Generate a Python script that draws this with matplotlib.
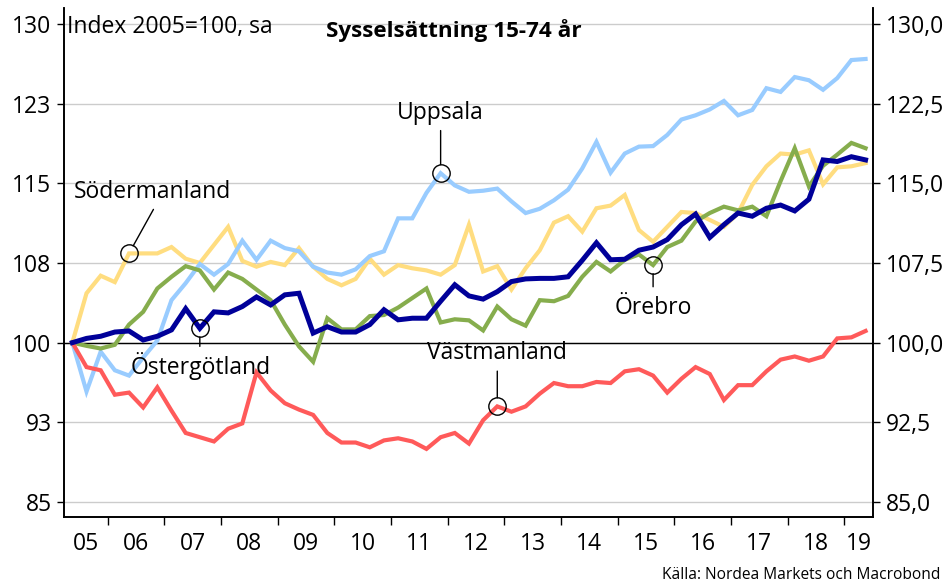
import matplotlib
matplotlib.use("Agg")
import matplotlib.pyplot as plt
import numpy as np
import pandas as pd

# ── Data (index 2005=100, quarterly) ─────────────────────────────────────────
quarters = pd.period_range("2005Q2", "2019Q2", freq="Q")

sodermanland = [100, 104.65, 106.3, 105.7, 108.4, 108.4, 108.4, 109.0, 107.9, 107.5,
                109.2, 110.9, 107.7, 107.15, 107.6, 107.3, 108.9, 107.15, 106.0, 105.4,
                106.0, 107.9, 106.4, 107.3, 107.0, 106.8, 106.4, 107.3, 111.1, 106.7,
                107.2, 105.0, 107.0, 108.7, 111.3, 111.9, 110.45, 112.65, 112.9, 113.9,
                110.6, 109.5, 110.9, 112.3, 112.2, 111.55, 110.9, 112.2, 114.85, 116.6,
                117.8, 117.7, 118.1, 114.9, 116.5, 116.6, 116.9]

uppsala = [100, 95.4, 99.15, 97.4, 96.9, 98.6, 100.2, 104.0, 105.6, 107.4,
           106.4, 107.4, 109.6, 107.8, 109.6, 108.9, 108.6, 107.15, 106.6, 106.4,
           106.9, 108.15, 108.6, 111.7, 111.7, 114.1, 115.95, 114.8, 114.2, 114.3,
           114.5, 113.3, 112.2, 112.6, 113.4, 114.4, 116.4, 118.9, 116.0, 117.8,
           118.45, 118.5, 119.55, 121.0, 121.4, 121.95, 122.75, 121.4, 121.9, 123.95,
           123.6, 125.0, 124.7, 123.8, 124.9, 126.6, 126.7]

orebro = [100, 99.7, 99.45, 99.8, 101.7, 102.9, 105.1, 106.2, 107.2, 106.8,
          105.0, 106.6, 106.0, 105.0, 104.0, 101.7, 99.65, 98.2, 102.3, 101.25,
          101.25, 102.5, 102.6, 103.3, 104.2, 105.1, 101.9, 102.2, 102.1, 101.15,
          103.4, 102.2, 101.6, 104.0, 103.9, 104.4, 106.2, 107.6, 106.7, 107.8,
          108.3, 107.3, 109.0, 109.6, 111.4, 112.2, 112.8, 112.45, 112.8, 111.9,
          115.2, 118.3, 114.7, 116.65, 117.7, 118.8, 118.3]

vastmanland = [100, 97.7, 97.4, 95.1, 95.3, 93.9, 95.8, 93.6, 91.5, 91.1,
               90.7, 91.9, 92.4, 97.2, 95.5, 94.3, 93.7, 93.2, 91.5, 90.6,
               90.6, 90.15, 90.8, 91.0, 90.7, 90.0, 91.1, 91.5, 90.5, 92.7,
               94.0, 93.5, 94.0, 95.2, 96.2, 95.9, 95.9, 96.3, 96.2, 97.3,
               97.5, 96.9, 95.3, 96.6, 97.7, 97.05, 94.6, 96.0, 96.0, 97.3,
               98.4, 98.7, 98.3, 98.7, 100.4, 100.5, 101.1]

ostergotland = [100, 100.4, 100.6, 101.0, 101.1, 100.25, 100.6, 101.2, 103.2, 101.35,
                102.9, 102.8, 103.4, 104.3, 103.55, 104.5, 104.65, 100.9, 101.5, 101.0,
                101.0, 101.7, 103.1, 102.15, 102.3, 102.3, 103.9, 105.45, 104.4, 104.1,
                104.8, 105.75, 106.0, 106.05, 106.05, 106.2, 107.75, 109.4, 107.8, 107.85,
                108.7, 109.0, 109.7, 111.1, 112.1, 109.9, 111.1, 112.2, 111.9, 112.65,
                112.95, 112.4, 113.5, 117.2, 117.05, 117.5, 117.2]

yticks        = [85, 92.5, 100, 107.5, 115, 122.5, 130]
ylabels_left  = ["85", "93", "100", "108", "115", "123", "130"]
ylabels_right = ["85,0", "92,5", "100,0", "107,5", "115,0", "122,5", "130,0"]
year_labels   = ["05", "06", "07", "08", "09", "10", "11", "12", "13", "14",
                 "15", "16", "17", "18", "19"]

# ── Style ─────────────────────────────────────────────────────────────────────
plt.rcParams["font.family"] = ["Open Sans", "DejaVu Sans"]

YELLOW = "#ffdd80"
LBLUE  = "#99ccff"
GREEN  = "#86ad4d"
RED    = "#ff5a5a"
DBLUE  = "#000099"
GRID   = "#cccccc"

t = quarters.year + (quarters.quarter - 1) / 4 + 0.125
XMIN, XMAX = 2005.228, 2019.507

fig = plt.figure(figsize=(9.47, 5.83), dpi=100)
ax = fig.add_axes([0.0676, 0.1132, 0.8543, 0.8731])

ax.set_xlim(XMIN, XMAX)
ax.set_ylim(83.59, 131.5)

for v in yticks:
    ax.axhline(v, color=GRID, lw=1.0, zorder=1)
ax.axhline(100, color="black", lw=1.0, zorder=2)

ax.plot(t, sodermanland, color=YELLOW, lw=3.0, zorder=3, solid_joinstyle="miter")
ax.plot(t, uppsala,      color=LBLUE,  lw=3.0, zorder=3, solid_joinstyle="miter")
ax.plot(t, orebro,       color=GREEN,  lw=3.0, zorder=3, solid_joinstyle="miter")
ax.plot(t, vastmanland,  color=RED,    lw=3.0, zorder=3, solid_joinstyle="miter")
ax.plot(t, ostergotland, color=DBLUE,  lw=3.6, zorder=4, solid_joinstyle="miter")

# ── Annotations ───────────────────────────────────────────────────────────────
def label(name, series, i, line_off, text_off):
    x, y = t[i], series[i]
    ax.plot(x, y, "o", ms=12.5, mfc="none", mec="black", mew=1.0, zorder=6)
    ax.annotate("", xy=(x, y), xytext=line_off, textcoords="offset points",
                arrowprops=dict(arrowstyle="-", color="black", lw=1.0,
                                shrinkA=0, shrinkB=6.2), zorder=6)
    ax.annotate(name, xy=(x, y), xytext=text_off, textcoords="offset points",
                ha="center", va="baseline", fontsize=16.5, zorder=6)

label("Södermanland", sodermanland, 4,  (17.6, 31.7), (17.0, 39.6))
label("Uppsala",      uppsala,      26, (0, 30.7),    (0, 39.0))
label("Östergötland", ostergotland, 9,  (0, -13.0),   (0.7, -32.9))
label("Örebro",       orebro,       41, (0, -15.6),   (0, -35.5))
label("Västmanland",  vastmanland,  30, (0, 25.4),    (-0.6, 34.3))

# ── Axes ──────────────────────────────────────────────────────────────────────
ax.spines["top"].set_visible(False)
for s in ("left", "right", "bottom"):
    ax.spines[s].set_linewidth(1.2)

ax.set_yticks(yticks)
ax.set_yticklabels(ylabels_left)
ax.tick_params(axis="y", length=5, width=1, pad=4, labelsize=16.5)

ax2 = ax.twinx()
ax2.set_ylim(ax.get_ylim())
ax2.set_yticks(yticks)
ax2.set_yticklabels(ylabels_right)
ax2.tick_params(axis="y", length=5, width=1, pad=4, labelsize=16.5)
ax2.spines["top"].set_visible(False)
for s in ("left", "right", "bottom"):
    ax2.spines[s].set_linewidth(1.2)

years = np.arange(2005, 2020)
bounds = years[1:]
centers = [(max(y, XMIN) + min(y + 1, XMAX)) / 2 for y in years]
ax.set_xticks(bounds)
ax.set_xticklabels([])
ax.tick_params(axis="x", which="major", length=6, width=1)
ax.set_xticks(centers, minor=True)
ax.set_xticklabels(year_labels, minor=True)
ax.tick_params(axis="x", which="minor", length=0, pad=11, labelsize=16.5)

ax.text(0.0033, 0.950, "Index 2005=100, sa", transform=ax.transAxes,
        ha="left", va="baseline", fontsize=16.5, zorder=7)
fig.text(0.4795, 0.9365, "Sysselsättning 15-74 år", ha="center", va="baseline",
         fontsize=16.2, fontweight="bold")
fig.text(0.9926, 0.0069, "Källa: Nordea Markets och Macrobond", ha="right",
         va="baseline", fontsize=11.2)

fig.savefig("out.png", dpi=100)
